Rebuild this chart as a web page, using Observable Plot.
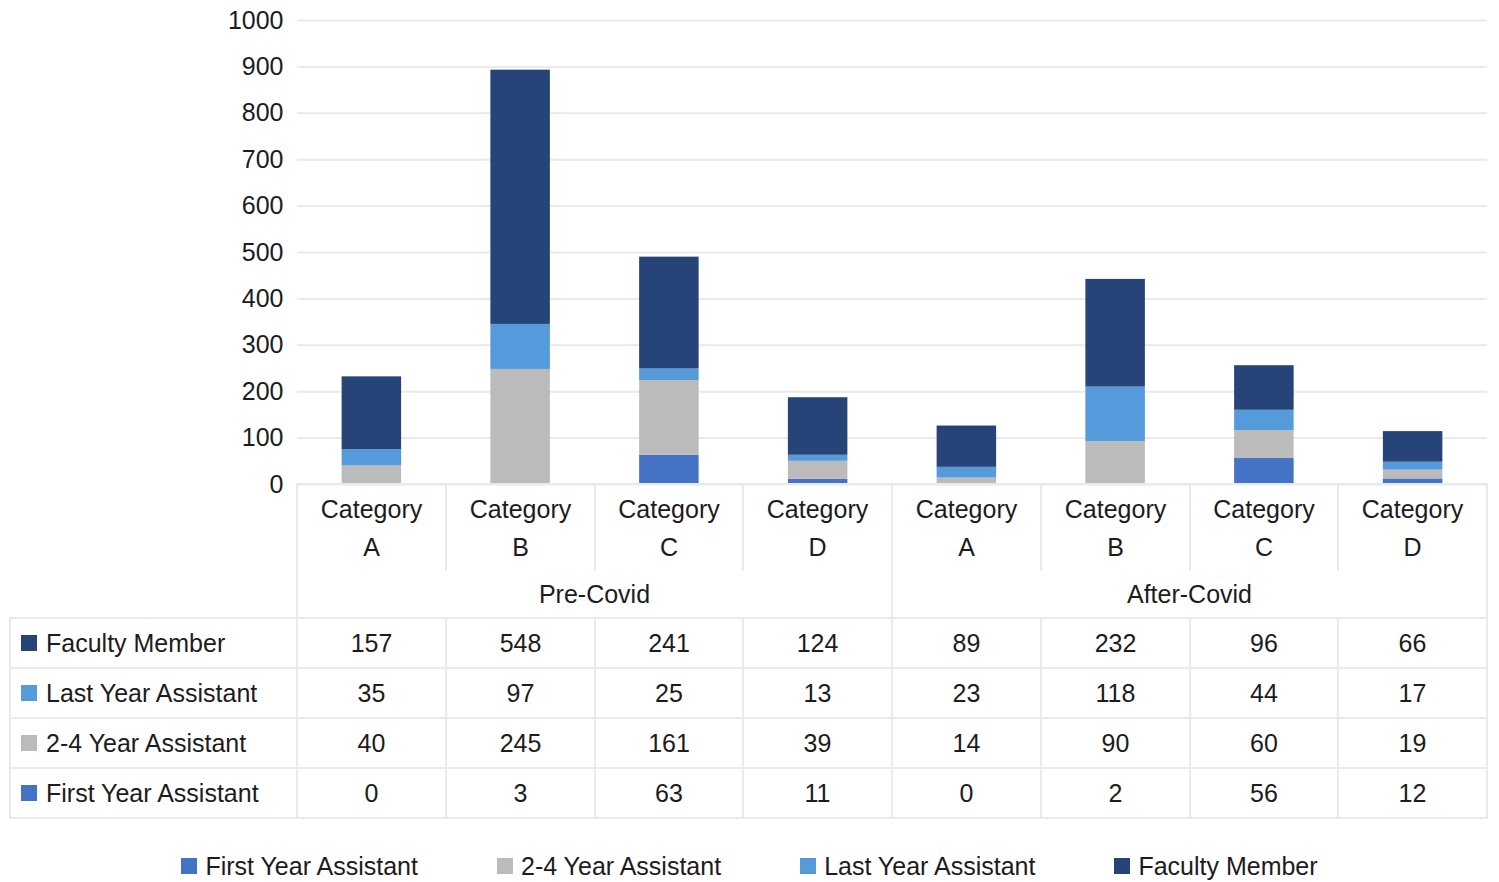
<!DOCTYPE html>
<html>
<head>
<meta charset="utf-8">
<script src="https://cdn.jsdelivr.net/npm/d3@7"></script>
<script src="https://cdn.jsdelivr.net/npm/@observablehq/plot@0.6"></script>
<style>
  html, body { margin: 0; padding: 0; background: #fff; }
  body { font-family: "Liberation Sans", Arial, sans-serif; color: #1c1c1c; }
  #root { position: relative; width: 1499px; height: 882px; overflow: hidden; }
  #chart { position: absolute; left: 0; top: 0; }
  .cell { position: absolute; box-sizing: border-box; font-size: 25px; text-align: center; border: 0 solid #e9e9ee; }
  .legend { position: absolute; left: 0; width: 1499px; top: 852px; display: flex; justify-content: center; gap: 79px; font-size: 25px; line-height: 28px; }
  .legend .item, .cell .lab { display: flex; align-items: center; }
  .sw { width: 16px; height: 16px; display: inline-block; margin-right: 8px; }
</style>
</head>
<body>
<div id="root"><div id="chart"></div></div>
<script>
// ---- data ----
const groups = ["Pre-Covid", "After-Covid"];
const categories = ["Category A", "Category B", "Category C", "Category D"];
const seriesStack = ["First Year Assistant", "2-4 Year Assistant", "Last Year Assistant", "Faculty Member"];
const seriesColors = ["#4472C4", "#BBBBBB", "#559BDB", "#264478"];
const tableOrder = ["Faculty Member", "Last Year Assistant", "2-4 Year Assistant", "First Year Assistant"];
const facultyMember      = [157, 548, 241, 124, 89, 232, 96, 66];
const lastYearAssistant  = [35, 97, 25, 13, 23, 118, 44, 17];
const twoToFourAssistant = [40, 245, 161, 39, 14, 90, 60, 19];
const firstYearAssistant = [0, 3, 63, 11, 0, 2, 56, 12];
const yTicks = [0, 100, 200, 300, 400, 500, 600, 700, 800, 900, 1000];

const valuesBySeries = {
  "Faculty Member": facultyMember,
  "Last Year Assistant": lastYearAssistant,
  "2-4 Year Assistant": twoToFourAssistant,
  "First Year Assistant": firstYearAssistant
};
const columns = [];
groups.forEach(g => categories.forEach(c => columns.push({group: g, category: c, key: g + "|" + c})));
const rows = [];
columns.forEach((col, i) => seriesStack.forEach(s => rows.push({key: col.key, series: s, value: valuesBySeries[s][i]})));

const chart = Plot.plot({
  width: 1499,
  height: 500,
  marginLeft: 297,
  marginRight: 12,
  marginTop: 20,
  marginBottom: 16,
  style: {fontFamily: '"Liberation Sans", Arial, sans-serif', fontSize: "25px", color: "#1c1c1c", overflow: "visible"},
  x: {domain: columns.map(d => d.key), paddingInner: 0.6, paddingOuter: 0.3, round: false, axis: null},
  y: {domain: [0, 1000], ticks: yTicks, tickSize: 0, tickPadding: 14, label: null},
  color: {domain: seriesStack, range: seriesColors},
  marks: [
    Plot.gridY(yTicks, {stroke: "#e9e9ee", strokeOpacity: 1, strokeWidth: 2}),
    Plot.barY(rows, {x: "key", y: "value", fill: "series", order: seriesStack}),
    Plot.axisY(yTicks, {tickSize: 0, tickPadding: 14, label: null, fontSize: 25, tickFormat: d => String(d)})
  ]
});
document.getElementById("chart").appendChild(chart);

// ---- data table under the chart, aligned on the x band scale ----
const xs = chart.scale("x");
const ys = chart.scale("y");
const step = xs.step || (xs.bandwidth / (1 - 0.6));
const colLeft = k => xs.apply(k) - (step - xs.bandwidth) / 2;
const root = document.getElementById("root");
const top0 = ys.apply(0);           // table top at the zero line
const catH = 86, grpH = 48, rowH = 50;
const leftX = 10;
const plotLeft = colLeft(columns[0].key);

function cell(x, y, w, h, borders, html, extra) {
  const d = document.createElement("div");
  d.className = "cell";
  const L = Math.round(x) - 1, T = Math.round(y) - 1;
  d.style.left = L + "px";
  d.style.top = T + "px";
  d.style.width = (Math.round(x + w) - L + 1) + "px";
  d.style.height = (Math.round(y + h) - T + 1) + "px";
  const [bt, br, bb, bl] = borders;
  d.style.borderWidth = `${bt}px ${br}px ${bb}px ${bl}px`;
  Object.assign(d.style, extra || {});
  d.innerHTML = html;
  root.appendChild(d);
  return d;
}

// category row
columns.forEach(col => {
  const letter = col.category.split(" ")[1];
  cell(colLeft(col.key), top0, step, catH, [2, 2, 0, 2],
    `Category<br>${letter}`, {lineHeight: "38px", paddingTop: "5px"});
});
// group row
groups.forEach(g => {
  const first = columns.find(c => c.group === g).key;
  const n = columns.filter(c => c.group === g).length;
  cell(colLeft(first), top0 + catH, step * n, grpH, [0, 2, 0, 2], g, {lineHeight: (grpH - 2) + "px", paddingTop: "2px"});
});
// data rows
tableOrder.forEach((s, ri) => {
  const y = top0 + catH + grpH + ri * rowH;
  const ci = seriesStack.indexOf(s);
  cell(leftX, y, plotLeft - leftX, rowH, [2, 2, 2, 2],
    `<div class="lab" style="height:${rowH - 2}px;padding-left:10px;"><span class="sw" style="background:${seriesColors[ci]};margin-right:9px"></span>${s}</div>`,
    {textAlign: "left"});
  columns.forEach((col, i) => {
    cell(colLeft(col.key), y, step, rowH, [2, 2, 2, 2], String(valuesBySeries[s][i]),
      {lineHeight: (rowH - 2) + "px"});
  });
});

// legend
const lg = document.createElement("div");
lg.className = "legend";
seriesStack.forEach((s, i) => {
  const it = document.createElement("div");
  it.className = "item";
  it.innerHTML = `<span class="sw" style="background:${seriesColors[i]}"></span>${s}`;
  lg.appendChild(it);
});
root.appendChild(lg);
</script>
</body>
</html>
